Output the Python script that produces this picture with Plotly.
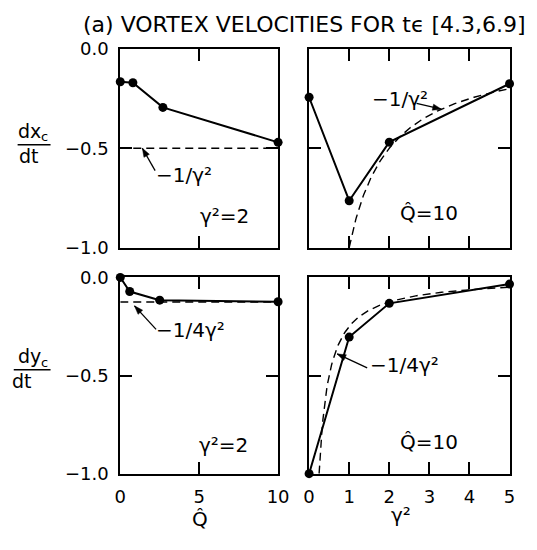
import numpy as np
import plotly.graph_objects as go

# Measured vortex velocities, gamma^2 = 2 (left column, against Q-hat)
q_hat_dx = [0, 0.8, 2.7, 10]
dxdt_vs_q = [-0.165, -0.17, -0.294, -0.47]
q_hat_dy = [0, 0.6, 2.5, 10]
dydt_vs_q = [0.0, -0.072, -0.116, -0.124]

# Measured vortex velocities, Q-hat = 10 (right column, against gamma^2)
gamma_sq = [0, 1, 2, 5]
dxdt_vs_g = [-0.243, -0.764, -0.469, -0.175]
dydt_vs_g = [-1.0, -0.304, -0.132, -0.034]

# Fixed parameter values of each column
gamma_sq_fixed = 2
q_hat_fixed = 10

# Axis ticks
q_ticks = [0, 5, 10]
q_tick_text = ["0", "5", "10"]
g_ticks = [0, 1, 2, 3, 4, 5]
g_tick_text = ["0", "1", "2", "3", "4", "5"]
v_ticks = [-1.0, -0.5, 0.0]
v_tick_text = ["−1.0", "−0.5", "0.0"]

W, H = 537, 550
FONT = "DejaVu Sans"
INK = "black"

# Theory curves: -1/gamma^2 and -1/(4 gamma^2)
g_theory_x = np.linspace(1.0, 5.0, 200)
g_theory_y = np.linspace(0.25, 5.0, 200)


def px_x(p):
    return p / W


def px_y(p):
    return 1 - p / H


left_px = (118, 281)
right_px = (313, 520)
top_px = (39.5, 246)
bot_px = (277, 481)

left_dom = [px_x(left_px[0]), px_x(left_px[1])]
right_dom = [px_x(right_px[0]), px_x(right_px[1])]
top_dom = [px_y(top_px[1]), px_y(top_px[0])]
bot_dom = [px_y(bot_px[1]), px_y(bot_px[0])]

fig = go.Figure()

solid = dict(color=INK, width=2)
dashed = dict(color=INK, width=1.4, dash="8px,5px")
marker = dict(color=INK, size=9)


def add_panel(xs, ys, xa, ya, theory_x, theory_y):
    fig.add_trace(go.Scatter(x=theory_x, y=theory_y, mode="lines", line=dashed,
                             xaxis=xa, yaxis=ya, hoverinfo="skip"))
    fig.add_trace(go.Scatter(x=xs, y=ys, mode="lines+markers", line=solid,
                             marker=marker, cliponaxis=False, xaxis=xa, yaxis=ya))


# top-left: dx/dt vs Q-hat, theory -1/gamma^2 constant
add_panel(q_hat_dx, dxdt_vs_q, "x", "y",
          [0, 10], [-1 / gamma_sq_fixed] * 2)
# top-right: dx/dt vs gamma^2
add_panel(gamma_sq, dxdt_vs_g, "x2", "y2",
          g_theory_x, -1 / g_theory_x)
# bottom-left: dy/dt vs Q-hat, theory -1/(4 gamma^2) constant
add_panel(q_hat_dy, dydt_vs_q, "x3", "y3",
          [0, 10], [-1 / (4 * gamma_sq_fixed)] * 2)
# bottom-right: dy/dt vs gamma^2
add_panel(gamma_sq, dydt_vs_g, "x4", "y4",
          g_theory_y, -1 / (4 * g_theory_y))

tick_font = dict(family=FONT, size=18, color=INK)


def xaxis(domain, rng, vals, text, show, anchor):
    return dict(domain=domain, range=rng, tickvals=vals, ticktext=text,
                showticklabels=show, anchor=anchor, ticks="inside", ticklen=12,
                tickwidth=1.5, tickcolor=INK, showline=True, linecolor=INK,
                linewidth=2, mirror="ticks", showgrid=False, zeroline=False,
                tickfont=tick_font, ticklabelstandoff=6)


def yaxis(domain, show, anchor):
    return dict(domain=domain, range=[-1, 0], tickvals=v_ticks, ticktext=v_tick_text,
                showticklabels=show, anchor=anchor, ticks="inside", ticklen=12,
                tickwidth=1.5, tickcolor=INK, showline=True, linecolor=INK,
                linewidth=2, mirror="ticks", showgrid=False, zeroline=False,
                tickfont=tick_font, ticklabelstandoff=6)


fig.update_layout(
    width=W, height=H, margin=dict(l=0, r=0, t=0, b=0),
    paper_bgcolor="white", plot_bgcolor="white", showlegend=False,
    font=dict(family=FONT, color=INK),
    xaxis=xaxis(left_dom, [0, 10], q_ticks, q_tick_text, False, "y"),
    yaxis=yaxis(top_dom, True, "x"),
    xaxis2=xaxis(right_dom, [0, 5], g_ticks, g_tick_text, False, "y2"),
    yaxis2=yaxis(top_dom, False, "x2"),
    xaxis3=xaxis(left_dom, [0, 10], q_ticks, q_tick_text, True, "y3"),
    yaxis3=yaxis(bot_dom, True, "x3"),
    xaxis4=xaxis(right_dom, [0, 5], g_ticks, g_tick_text, True, "y4"),
    yaxis4=yaxis(bot_dom, False, "x4"),
)

ann = []


def text_at(x, y, s, size=19, xanchor="center"):
    ann.append(dict(x=px_x(x), y=px_y(y), xref="paper", yref="paper", text=s,
                    showarrow=False, xanchor=xanchor, yanchor="middle",
                    font=dict(family=FONT, size=size, color=INK)))


def to_px(xv, yv, xr, xp, yp):
    """Map a data point of a panel to page pixels."""
    px = xp[0] + (xv - xr[0]) / (xr[1] - xr[0]) * (xp[1] - xp[0])
    py = yp[0] + (0 - yv) / 1.0 * (yp[1] - yp[0])
    return px, py


def pointer(tip, tail):
    """Thin line from tail to tip with a filled arrowhead at the tip."""
    (tx, ty), (sx, sy) = tip, tail
    fig.add_shape(type="line", xref="paper", yref="paper",
                  x0=px_x(sx), y0=px_y(sy), x1=px_x(tx), y1=px_y(ty),
                  line=dict(color=INK, width=1.3))
    d = np.hypot(tx - sx, ty - sy)
    ux, uy = (tx - sx) / d, (ty - sy) / d
    L, Wd = 9, 3.2
    bx, by = tx - ux * L, ty - uy * L
    p1 = (bx - uy * Wd, by + ux * Wd)
    p2 = (bx + uy * Wd, by - ux * Wd)
    path = "M {} {} L {} {} L {} {} Z".format(
        px_x(tx), px_y(ty), px_x(p1[0]), px_y(p1[1]), px_x(p2[0]), px_y(p2[1]))
    fig.add_shape(type="path", xref="paper", yref="paper", path=path,
                  fillcolor=INK, line=dict(color=INK, width=0.5))


# title
text_at(308, 14, "(a) VORTEX VELOCITIES FOR tϵ [4.3,6.9]", size=22)

# y-axis fraction labels: numerator, small subscript, bar, denominator
for cy, num, dx in [(139, "dx", 24), (373, "dy", 17)]:
    text_at(24, cy - 14, num, size=19)
    text_at(40, cy - 8, "c", size=13)
    text_at(dx, cy + 12, "dt", size=19)

fig.add_shape(type="line", xref="paper", yref="paper",
              x0=px_x(12), x1=px_x(46), y0=px_y(139), y1=px_y(139),
              line=dict(color=INK, width=1.5))
fig.add_shape(type="line", xref="paper", yref="paper",
              x0=px_x(8), x1=px_x(46), y0=px_y(373), y1=px_y(373),
              line=dict(color=INK, width=1.5))

# x-axis titles
text_at(200, 528, "Q̂", size=20)
text_at(408, 524, "γ²", size=20)

# in-panel parameter labels
text_at(226, 213, "γ²=2", size=20)
text_at(225, 451, "γ²=2", size=20)
text_at(437, 210, "Q̂=10", size=20)
text_at(437, 448, "Q̂=10", size=20)

# theory labels with pointer arrows
text_at(153, 170, "−1/γ²", size=20, xanchor="left")
pointer(to_px(1.4, -1 / gamma_sq_fixed, (0, 10), left_px, top_px), (154, 166))

text_at(376, 92, "−1/γ²", size=20, xanchor="left")
pointer(to_px(3.3, -1 / 3.3, (0, 5), right_px, top_px), (424, 96))

text_at(153, 332, "−1/4γ²", size=20, xanchor="left")
pointer(to_px(0.9, -0.145, (0, 10), left_px, bot_px), (155, 331))

text_at(374, 368, "−1/4γ²", size=20, xanchor="left")
pointer(to_px(0.7, -0.39, (0, 5), right_px, bot_px), (373, 371))

fig.update_layout(annotations=ann)

fig.write_html("out.html")
